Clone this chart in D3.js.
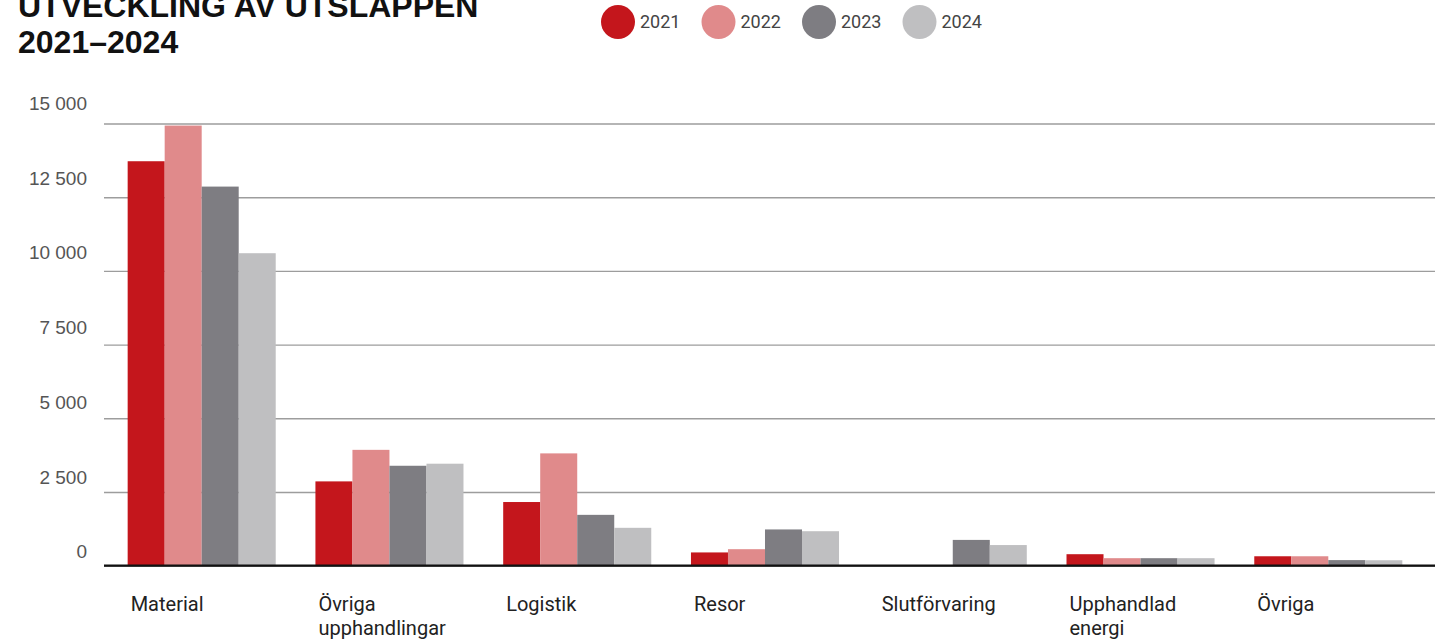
<!DOCTYPE html>
<html>
<head>
<meta charset="utf-8">
<script src="https://cdn.jsdelivr.net/npm/d3@7"></script>
<style>
  body { margin: 0; background: #fff; }
  svg { display: block; font-family: Roboto, "Liberation Sans", sans-serif; }
</style>
</head>
<body>
<svg id="chart" width="1455" height="640"></svg>
<script>
// data (tonnes CO2e)
let categories = ['Material', 'Övriga\nupphandlingar', 'Logistik', 'Resor', 'Slutförvaring', 'Upphandlad\nenergi', 'Övriga'];
let years = ['2021', '2022', '2023', '2024'];
let data2021 = [13720, 2860, 2160, 450, 0, 390, 320];
let data2022 = [14930, 3930, 3810, 560, 0, 255, 320];
let data2023 = [12860, 3390, 1725, 1230, 875, 255, 190];
let data2024 = [10600, 3460, 1285, 1170, 700, 255, 185];
let yTicks = [0, 2500, 5000, 7500, 10000, 12500, 15000];
let yearColors = ['#C4161C', '#E08A8B', '#7E7D82', '#BFBFC1'];

let svg = d3.select('#chart');
let width = 1455, height = 640;
let margin = {top: 123.5, right: 20, bottom: 74.3, left: 104};
let innerWidth = width - margin.left - margin.right;
let innerHeight = height - margin.top - margin.bottom;

let seriesByYear = [data2021, data2022, data2023, data2024];
let rows = categories.map((c, i) => {
    let r = {cat: c};
    years.forEach((y, j) => r[y] = seriesByYear[j][i]);
    return r;
});

let fmt = d3.formatLocale({decimal: ',', thousands: ' ', grouping: [3], currency: ['', '']}).format(',');

// title
let title = svg.append('text')
    .attr('font-size', 32)
    .attr('font-weight', 'bold')
    .attr('fill', '#111')
    .attr('font-family', '"Liberation Sans", Arial, sans-serif');
title.append('tspan').attr('x', 18).attr('y', 17).text('UTVECKLING AV UTSLÄPPEN');
title.append('tspan').attr('x', 18).attr('y', 53).text('2021–2024');

// legend
let legend = svg.append('g').attr('transform', 'translate(618,22)');
years.forEach((y, i) => {
    let item = legend.append('g').attr('transform', `translate(${i * 100.5},0)`);
    item.append('circle').attr('r', 17).attr('fill', yearColors[i]);
    item.append('text')
        .attr('x', 22)
        .attr('dy', '0.35em')
        .attr('font-size', 18)
        .attr('fill', '#444')
        .text(y);
});

let g = svg.append('g').attr('transform', `translate(${margin.left},${margin.top})`);

let x0 = d3.scaleBand()
    .domain(categories)
    .range([0, innerWidth])
    .paddingInner(0.2115)
    .paddingOuter(0.15)
    .align(0.42);

let x1 = d3.scaleBand()
    .domain(years)
    .range([0, x0.bandwidth()]);

let y = d3.scaleLinear()
    .domain([0, 15000])
    .range([innerHeight, 0]);

let color = d3.scaleOrdinal().domain(years).range(yearColors);

// gridlines + labels (labels sit above their line)
g.append('g')
    .call(d3.axisLeft(y)
        .tickValues(yTicks)
        .tickFormat(fmt)
        .tickSize(-innerWidth)
        .tickPadding(17))
    .call(a => a.select('.domain').remove())
    .call(a => a.selectAll('.tick line')
        .attr('stroke', '#9d9d9d')
        .attr('stroke-width', 1.4))
    .call(a => a.selectAll('.tick text')
        .attr('dy', null)
        .attr('y', d => -8 - 6 * d / 15000)
        .attr('font-size', 19)
        .attr('fill', '#555'));

// bars
g.append('g')
    .selectAll('g')
    .data(rows)
    .join('g')
    .attr('transform', d => `translate(${x0(d.cat)},0)`)
    .selectAll('rect')
    .data(d => years.map(k => ({key: k, value: d[k]})))
    .join('rect')
    .attr('x', d => x1(d.key))
    .attr('width', x1.bandwidth())
    .attr('y', d => y(d.value))
    .attr('height', d => innerHeight - y(d.value))
    .attr('fill', d => color(d.key));

// baseline
g.append('line')
    .attr('x1', 0)
    .attr('x2', innerWidth)
    .attr('y1', y(0))
    .attr('y2', y(0))
    .attr('stroke', '#111')
    .attr('stroke-width', 2.2);

// category labels
categories.forEach(c => {
    let t = g.append('text')
        .attr('font-size', 20)
        .attr('fill', '#222');
    c.split('\n').forEach((line, i) => {
        t.append('tspan')
            .attr('x', x0(c) + 3)
            .attr('y', innerHeight + 45 + i * 24)
            .text(line);
    });
});
</script>
</body>
</html>
